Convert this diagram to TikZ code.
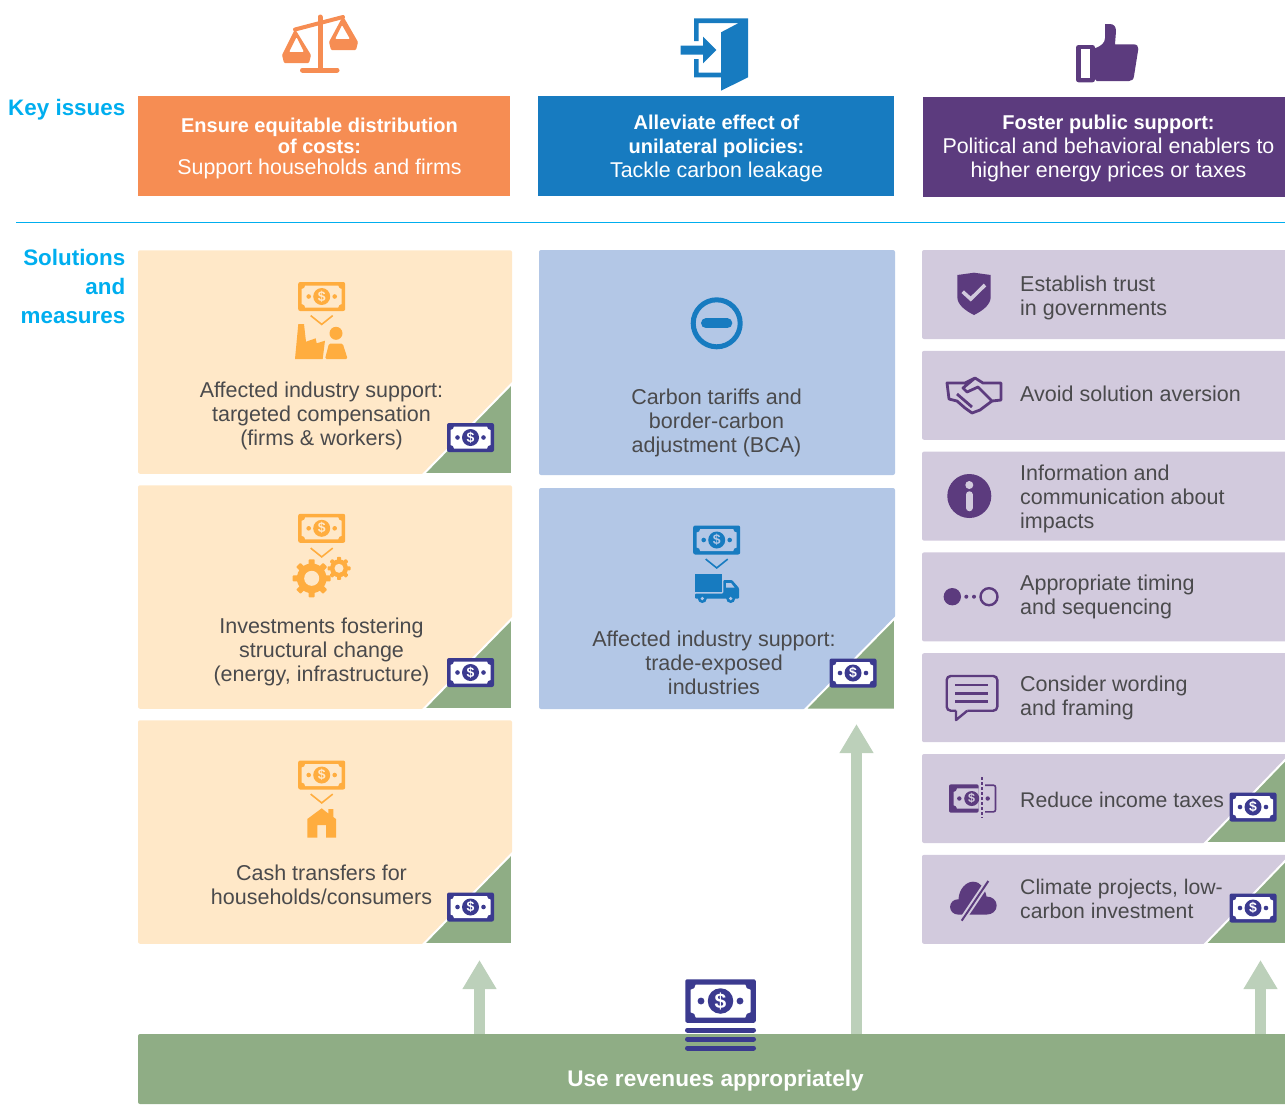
\documentclass[tikz,border=0pt]{standalone}
\usepackage{fontspec}
\setmainfont{Liberation Sans}
\usetikzlibrary{arrows.meta}
\definecolor{cOrange}{HTML}{F68D53}
\definecolor{cBlue}{HTML}{177BC0}
\definecolor{cPurple}{HTML}{5C3B7E}
\definecolor{cPeach}{HTML}{FFE8C8}
\definecolor{cSky}{HTML}{B3C7E6}
\definecolor{cLilac}{HTML}{D2CADD}
\definecolor{cGreen}{HTML}{8FAD85}
\definecolor{cPale}{HTML}{BCD0BA}
\definecolor{cAmber}{HTML}{FFAD3F}
\definecolor{cNavy}{HTML}{3B3A8F}
\definecolor{cCyan}{HTML}{00AEEF}
\definecolor{cInk}{HTML}{4A4A4C}
\newcommand{\hb}[1]{{\fontsize{20}{21}\selectfont\bfseries #1}}
\tikzstyle{header} = [rectangle,
	minimum height=100pt,
	inner sep=0pt,
	align=center,
	text=white,
	font=\fontsize{21.4}{24}\selectfont
	]
\tikzstyle{headertext} = [inner sep=0pt,
	align=center,
	text=white,
	font=\fontsize{21.4}{24}\selectfont
	]
\tikzstyle{side} = [anchor=east,
	inner sep=0pt,
	align=right,
	text=cCyan,
	font=\fontsize{22.4}{29}\selectfont\bfseries
	]
\tikzstyle{leftcard} = [rectangle,
	rounded corners=2pt,
	minimum width=374pt,
	minimum height=223.5pt,
	fill=cPeach
	]
\tikzstyle{midcard} = [rectangle,
	rounded corners=2pt,
	minimum width=356pt,
	fill=cSky
	]
\tikzstyle{rightcard} = [rectangle,
	rounded corners=2pt,
	minimum width=366pt,
	minimum height=89pt,
	fill=cLilac
	]
\tikzstyle{cardtext} = [inner sep=0pt,
	align=center,
	text=cInk,
	font=\fontsize{21.5}{24}\selectfont
	]
\tikzstyle{righttext} = [cardtext,
	anchor=west,
	align=left
	]
\tikzstyle{corner} = [fill=cGreen,
	draw=white,
	line width=2pt
	]
\tikzstyle{revarrow} = [draw=cPale,
	line width=11pt,
	-{Triangle[width=32pt,length=29pt]}
	]
\tikzset{
	pics/bill/.style n args={2}{code={
		\fill[#1,rounded corners=2pt] (-23.5,-14.5) rectangle (23.5,14.5);
		\fill[#2] (-16.5,11) -- (16.5,11) arc[start angle=180,end angle=270,radius=3.5]
			-- (20,-7.5) arc[start angle=90,end angle=180,radius=3.5]
			-- (-16.5,-11) arc[start angle=0,end angle=90,radius=3.5]
			-- (-20,7.5) arc[start angle=-90,end angle=0,radius=3.5] -- cycle;
		\fill[#1] (0,0) circle (8.5);
		\fill[#1] (-13,0) circle (2.3) (13,0) circle (2.3);
		\node (-sign) [transform shape,inner sep=0pt,text=#2,font=\fontsize{14}{14}\selectfont\bfseries] at (0,0) {\$};
	}},
	pics/chevron/.style={code={
		\draw[#1,line width=1.6pt] (-11,4.4) -- (0,-4.4) -- (11,4.4);
	}},
	pics/gear/.style n args={3}{code={
		\foreach \a in {0,45,...,315}
			\fill[cAmber,rotate=\a,rounded corners=.8pt] (-#3,0) rectangle (#3,#1);
		\fill[cAmber] (0,0) circle ({#1*.78});
		\fill[cPeach] (0,0) circle (#2);
	}}
}

\begin{document}
\begin{tikzpicture}[x=1pt,y=1pt,node distance=235pt]
\useasboundingbox (0,0) rectangle (1285,-1104);

% headers
\node (hCost) [header, fill=cOrange, minimum width=372pt] at (324,-146) {};
\node (hLeak) [header, fill=cBlue, minimum width=356pt] at (716,-146) {};
\node (hPublic) [header, fill=cPurple, minimum width=362pt] at (1104,-147) {};
\node (tCost) [headertext, font=\fontsize{21.4}{21}\selectfont] at (319.5,-148) {\hb{Ensure equitable distribution}\\\hb{of costs:}\\Support households and firms};
\node (tLeak) [headertext] at (716.5,-148) {\hb{Alleviate effect of}\\\hb{unilateral policies:}\\Tackle carbon leakage};
\node (tPublic) [headertext] at (1108.5,-148) {\hb{Foster public support:}\\Political and behavioral enablers to\\higher energy prices or taxes};

\node (lKey) [side] at (125.5,-110) {Key issues};
\node (lSol) [side] at (125.5,-286) {Solutions\\and\\measures};

\coordinate (ruleL) at (16,-222.5);
\coordinate (ruleR) at (1285,-222.5);
\draw [cCyan, line width=.8pt] (ruleL) -- (ruleR);

% left column
\node (cAffect) [leftcard] at (325,-362) {};
\node (cInvest) [leftcard, below of=cAffect] {};
\node (cCash) [leftcard, below of=cInvest] {};

% middle column
\node (cTariff) [midcard, minimum height=225pt] at (717,-362.5) {};
\node (cTrade) [midcard, minimum height=221pt] at (717,-598.5) {};

% right column
\node (cTrust) [rightcard] at (1105,-294.5) {};
\node (cAversion) [rightcard, yshift=-100.8pt] at (cTrust) {};
\node (cInfo) [rightcard, yshift=-100.8pt] at (cAversion) {};
\node (cTiming) [rightcard, yshift=-100.8pt] at (cInfo) {};
\node (cWording) [rightcard, yshift=-100.8pt] at (cTiming) {};
\node (cTaxes) [rightcard, yshift=-100.8pt] at (cWording) {};
\node (cClimate) [rightcard, yshift=-100.8pt] at (cTaxes) {};

% green corners
\draw [corner] (512,-383.5) -- (423.5,-474) -- (512,-474) -- cycle;
\draw [corner] (512,-618.5) -- (423.5,-709) -- (512,-709) -- cycle;
\draw [corner] (512,-853.5) -- (423.5,-944) -- (512,-944) -- cycle;
\draw [corner] (895,-618) -- (805,-709.5) -- (895,-709.5) -- cycle;
\draw [corner] (1287,-758) -- (1205,-843) -- (1287,-843) -- cycle;
\draw [corner] (1287,-859) -- (1205,-944) -- (1287,-944) -- cycle;

% revenue bar
\node (bar) [rectangle, rounded corners=2pt, minimum width=1150pt, minimum height=70pt, inner sep=0pt, fill=cGreen] at (713,-1069) {};
\node (tBar) [cardtext, text=white, font=\fontsize{22.6}{24}\selectfont\bfseries] at (715.5,-1080.5) {Use revenues appropriately};

\coordinate (tipLeft) at (479.5,-960);
\coordinate (tipMid) at (856.5,-724);
\coordinate (tipRight) at (1260.5,-960);
\draw [revarrow] (bar.north -| tipLeft) -- (tipLeft);
\draw [revarrow] (bar.north -| tipMid) -- (tipMid);
\draw [revarrow] (bar.north -| tipRight) -- (tipRight);

% card texts
\node (tAffect) [cardtext] at (321.5,-416) {Affected industry support:\\targeted compensation\\(firms \& workers)};
\node (tInvest) [cardtext] at (321.5,-652) {Investments fostering\\structural change\\(energy, infrastructure)};
\node (tCash) [cardtext] at (321.5,-885) {Cash transfers for\\households/consumers};
\node (tTariff) [cardtext] at (716.5,-423) {Carbon tariffs and\\border-carbon\\adjustment (BCA)};
\node (tTrade) [cardtext] at (714,-663) {Affected industry support:\\trade-exposed\\industries};
\node (tTrust) [righttext] at (1020,-298) {Establish trust\\in governments};
\node (tAversion) [righttext] at (1020,-394) {Avoid solution aversion};
\node (tInfo) [righttext] at (1020,-499) {Information and\\communication about\\impacts};
\node (tTiming) [righttext] at (1020,-597) {Appropriate timing\\and sequencing};
\node (tWording) [righttext] at (1020,-698) {Consider wording\\and framing};
\node (tTaxes) [righttext, font=\fontsize{21.2}{24}\selectfont] at (1020,-800) {Reduce income taxes};
\node (tClimate) [righttext, font=\fontsize{21.2}{24}\selectfont] at (1020,-899) {Climate projects, low-\\carbon investment};

% bills
\pic (bAffect) at (321.7,-296.5) {bill={cAmber}{cPeach}};
\pic (bInvest) at (321.7,-528.3) {bill={cAmber}{cPeach}};
\pic (bCash) at (321.7,-775) {bill={cAmber}{cPeach}};
\pic (bTrade) at (716.7,-540) {bill={cBlue}{cSky}};
\pic (sAffect) at (470.5,-437.5) {bill={cNavy}{white}};
\pic (sInvest) at (470.5,-672.5) {bill={cNavy}{white}};
\pic (sCash) at (470.5,-907) {bill={cNavy}{white}};
\pic (sTrade) at (853,-673) {bill={cNavy}{white}};
\pic (sTaxes) at (1253,-807) {bill={cNavy}{white}};
\pic (sClimate) at (1253,-908) {bill={cNavy}{white}};
\pic (bBig) [scale=1.5] at (720.5,-1001) {bill={cNavy}{white}};
\foreach \y in {1030,1039,1048}
	\draw [cNavy, line width=5pt, line cap=round] (687.5,-\y) -- (753.5,-\y);

\pic at (321.7,-320) {chevron=cAmber};
\pic at (321.7,-552.5) {chevron=cAmber};
\pic at (321.7,-798.5) {chevron=cAmber};
\pic at (716.7,-563.5) {chevron=cBlue};

\pic at (311.7,-578.3) {gear={19}{7.5}{3}};
\pic at (339,-568.3) {gear={11.5}{4.5}{2}};

% icons, written in picture rows
\begin{scope}[yscale=-1]
% balance
\fill [cOrange, rounded corners=1pt, even odd rule]
	(295,29) -- (282,55) -- (284,63) -- (309,63) -- (311,55) -- cycle
	(296.5,37) -- (289,52) -- (304,52) -- cycle;
\fill [cOrange, rounded corners=1pt, even odd rule]
	(343,16) -- (329,42) -- (331,50) -- (356,50) -- (358,42) -- cycle
	(342,25) -- (335,39) -- (350,39) -- cycle;
\draw [cOrange, line width=4pt, line cap=round] (295,29.5) -- (343,17);
\draw [cOrange, line width=5pt, line cap=round] (320,17) -- (320,70) (302.5,70) -- (337,70);
% door
\fill [cBlue] (694,18.3) -- (748,18.3) -- (748,77.3) -- (721,90.7) -- (721,77.3) -- (694,77.3) -- (694,59) -- (698.7,59) -- (698.7,72.7) -- (721,72.7) -- (721,32.3) -- (738.7,23) -- (698.7,23) -- (698.7,41) -- (694,41) -- cycle;
\fill [cBlue] (680.7,45.7) -- (703,45.7) -- (703,36.7) -- (716.3,50) -- (703,63.3) -- (703,54.7) -- (680.7,54.7) -- cycle;
% thumb
\fill [cPurple, rounded corners=2.5pt, even odd rule] (1076,45) rectangle (1095,82.3);
\fill [white] (1080.7,49.3) rectangle (1090,77.7);
\fill [cPurple] (1095,48.3) .. controls (1101,46) and (1105,43) .. (1105,38) -- (1105,24) -- (1110,24) .. controls (1114,24) and (1116,27) .. (1116,31) -- (1115,44.3) -- (1133,44.3) .. controls (1137,44.3) and (1138.5,46) .. (1138.3,49) -- (1134,76) .. controls (1133.5,79.5) and (1132,81) .. (1129,81) -- (1096.7,81) -- (1095,79) -- cycle;
% factory and worker
\fill [cAmber] (295,359) -- (298.3,324) -- (304,324) -- (306,341.7) -- (315.7,338.3) -- (316.7,343.3) -- (325,340.7) -- (322.7,359) -- cycle;
\fill [cAmber] (336,333.3) circle (6.5);
\fill [cAmber, rounded corners=1.5pt] (325,359) -- (329,343.5) -- (342.7,343.5) -- (347.7,359) -- cycle;
% house
\fill [cAmber] (321.7,808.3) -- (328.3,813.5) -- (328.3,809) -- (333.3,809) -- (333.3,817) -- (336,819) -- (336,837.7) -- (326,837.7) -- (326,825) -- (317.3,825) -- (317.3,837.7) -- (307.3,837.7) -- (307.3,819) -- cycle;
% minus
\draw [cBlue, line width=5pt] (716.7,323.3) circle (23.5);
\draw [cBlue, line width=10pt, line cap=round] (706,323.3) -- (727.3,323.3);
% truck
\fill [cBlue] (695,574.3) rectangle (721.7,592.3);
\fill [cBlue, rounded corners=1pt] (723.3,580) -- (732,580) -- (739,588) -- (739,598.5) -- (695,598.5) -- (695,593.5) -- (723.3,593.5) -- cycle;
\fill [cSky] (726,583) -- (731,583) -- (734.5,587.5) -- (726,587.5) -- cycle;
\foreach \x in {702.3,730.7} {
	\fill [cBlue] (\x,598.5) circle (4.5);
	\fill [cSky] (\x,598.5) circle (1.8);
}
% shield
\fill [cPurple] (974,272.7) -- (990.7,275) -- (990.7,297) .. controls (990.7,305) and (982,311) .. (974,315) .. controls (966,311) and (957.3,305) .. (957.3,297) -- (957.3,275) -- cycle;
\draw [cLilac, line width=3.6pt] (962.7,291.7) -- (970.7,299) -- (985,285);
% handshake
\draw [cPurple, line width=2.8pt, line join=round]
	(947,383) -- (965,383) -- (975,378) -- (983,383) -- (1001,383) -- (1001,400) -- (992,401) -- (980,410) -- (972,413) -- (965,408) -- (957,401) -- (949,399) -- cycle
	(975,378) -- (963,388) -- (967,392) -- (978,387) -- (992,401)
	(957,394) -- (972,407);
% info
\fill [cPurple] (969.3,496) circle (22);
\fill [cLilac] (969.3,485) circle (4);
\draw [cLilac, line width=6.5pt, line cap=round] (969.3,494.5) -- (969.3,508);
% timing
\fill [cPurple] (952.3,596.7) circle (8.7);
\fill [cPurple] (966.3,596.7) circle (2) (974,596.7) circle (2);
\draw [cPurple, line width=2.4pt] (989,596.7) circle (8.5);
% speech
\draw [cPurple, line width=2.4pt, rounded corners=4pt] (956,710.7) -- (946.7,710.7) -- (946.7,676) -- (997.3,676) -- (997.3,710.7) -- (967.3,710.7);
\draw [cPurple, line width=2.4pt, line join=round] (956,710.7) -- (956,720) -- (967.3,710.7);
\foreach \y in {685,693.5,701.3}
	\draw [cPurple, line width=2.4pt] (955,\y) -- (988.3,\y);
% cut bill
\fill [cPurple, rounded corners=2pt] (949,784.3) -- (978.7,784.3) -- (978.7,812.7) -- (949,812.7) -- cycle;
\fill [cLilac] (957,788.3) -- (978.7,788.3) -- (978.7,808.7) -- (957,808.7) arc[start angle=0,end angle=-90,radius=3.5] -- (953.5,792) arc[start angle=90,end angle=0,radius=3.5] -- cycle;
\fill [cPurple] (971.7,798.5) circle (7.5);
\fill [cPurple] (959.3,798.5) circle (2.2) (987.7,798.5) circle (2.2);
\draw [cPurple, line width=1.6pt, rounded corners=2pt] (985,785.2) -- (995.5,785.2) -- (995.5,811.8) -- (985,811.8);
\draw [cPurple, line width=2pt, dashed, dash pattern=on 3pt off 2pt] (982,777.3) -- (982,818.3);
% cloud
\fill [cPurple] (957.7,914.5) arc[start angle=90,end angle=270,radius=7.6] -- (958.5,899.3) .. controls (959,889) and (966,881.7) .. (973,881.7) .. controls (981,881.7) and (985,889) .. (986.5,896.5) .. controls (992,896.5) and (996.7,900) .. (996.7,905.5) .. controls (996.7,911) and (992,914.5) .. (987,914.5) -- cycle;
\draw [cLilac, line width=6pt] (961.7,920.7) -- (988.3,881);
\draw [cPurple, line width=2pt] (961.7,920.7) -- (988.3,881);
\end{scope}
\node (cutSign) [inner sep=0pt, text=cLilac, font=\fontsize{12.5}{12.5}\selectfont\bfseries] at (971.7,-798.5) {\$};

\end{tikzpicture}
\end{document}
